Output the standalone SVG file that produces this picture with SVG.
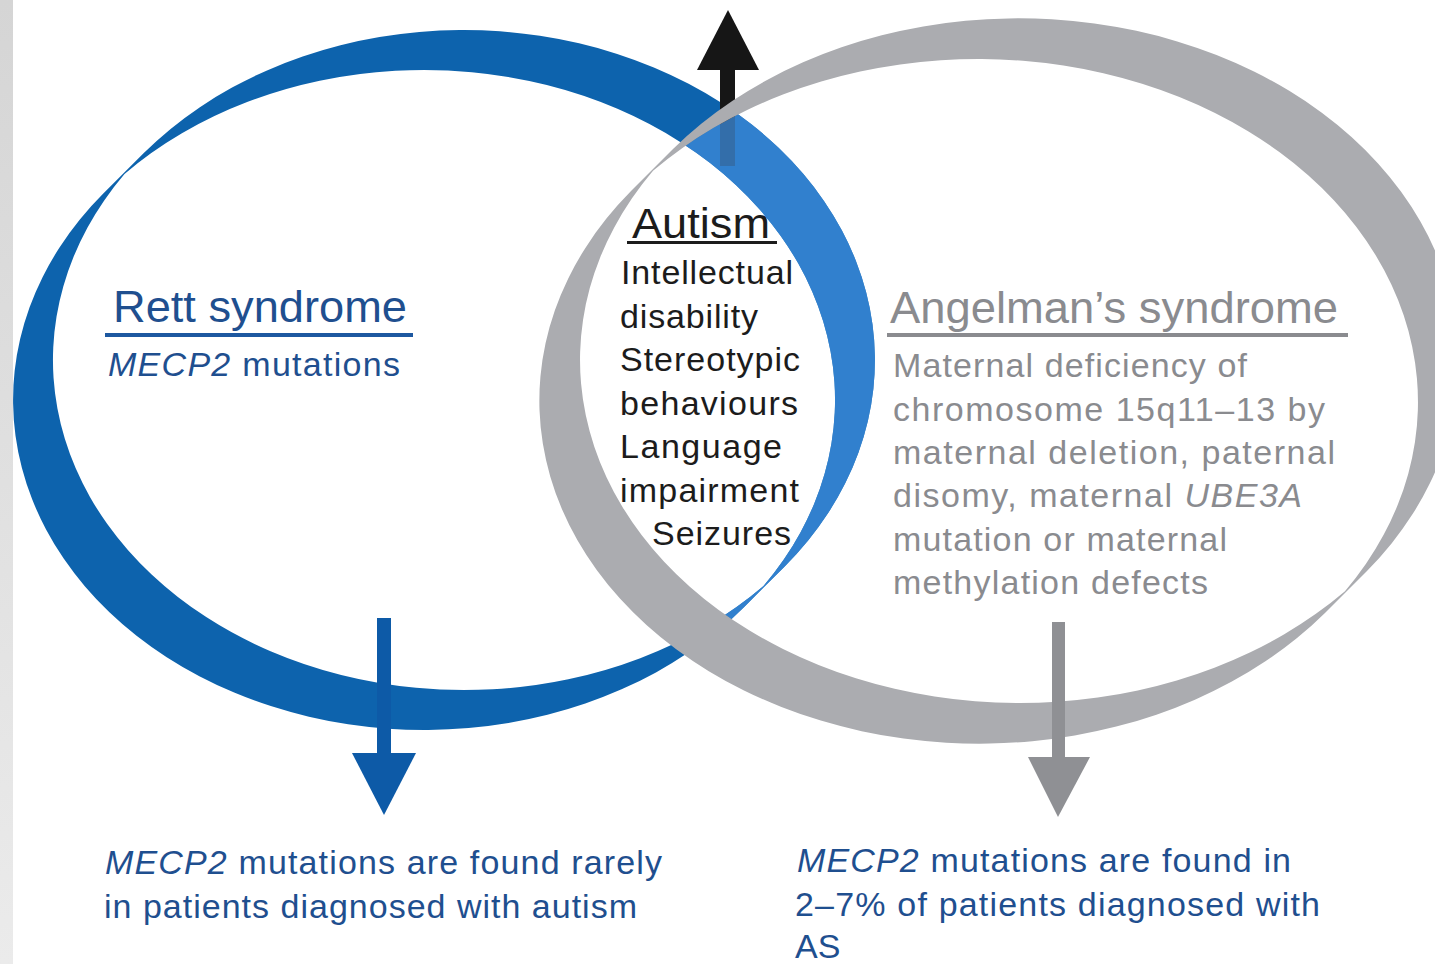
<svg xmlns="http://www.w3.org/2000/svg" width="1435" height="964" viewBox="0 0 1435 964">
  <defs>
    <linearGradient id="edge" x1="0" y1="0" x2="0" y2="1">
      <stop offset="0" stop-color="#d5d5d5"/>
      <stop offset="1" stop-color="#ebebeb"/>
    </linearGradient>
    <!-- interior of the Angelman ring; the Rett ring is tinted lighter inside it -->
    <clipPath id="grayInside">
      <path d="M653.03 170.76 A440 343 0 0 1 1344.97 591.24 A440 343 0 0 1 653.03 170.76 Z"/>
    </clipPath>
    <style>
      .sans { font-family: "Liberation Sans", Arial, Helvetica, sans-serif; }
      .title { font-size: 44px; }
      .body { font-size: 34px; }
      .navy { fill: #1f4f8f; }
      .dark { fill: #1c1c1c; }
      .grey { fill: #8a8b8f; }
      .it { font-style: italic; }
    </style>
  </defs>

  <rect x="0" y="0" width="1435" height="964" fill="#ffffff"/>
  <rect x="0" y="0" width="13" height="964" fill="url(#edge)"/>

  <!-- Rett syndrome ring (calligraphic ellipse: hull minus lens) -->
  <g id="rett-ring">
    <path fill="#0d63ad" fill-rule="evenodd"
      d="M143.54 153.35 A411 330 0 0 1 784.46 566.65 L744.46 606.65 A411 330 0 0 1 103.54 193.35 Z
         M124.5 174 A411 330 0 0 1 763.5 586 A411 330 0 0 1 124.5 174 Z"/>
  </g>

  <g id="connectors">
    <!-- upward arrow towards autism -->
    <g id="arrow-up" fill="#161616">
      <rect x="720" y="66" width="15" height="100"/>
      <polygon points="728,10 759,70 697,70"/>
    </g>
  </g>

  <!-- Rett ring where it lies inside the Angelman ring -->
  <g id="rett-ring-overlap" clip-path="url(#grayInside)">
    <path fill="#3d8ad9" fill-opacity="0.76" fill-rule="evenodd"
      d="M143.54 153.35 A411 330 0 0 1 784.46 566.65 L744.46 606.65 A411 330 0 0 1 103.54 193.35 Z
         M124.5 174 A411 330 0 0 1 763.5 586 A411 330 0 0 1 124.5 174 Z"/>
  </g>

  <!-- Angelman syndrome ring -->
  <g id="angelman-ring">
    <path fill="#abacb0" fill-rule="evenodd"
      d="M673.02 149.09 A440 343 0 0 1 1366.98 570.91 L1324.98 612.91 A440 343 0 0 1 631.02 191.09 Z
         M653.03 170.76 A440 343 0 0 1 1344.97 591.24 A440 343 0 0 1 653.03 170.76 Z"/>
  </g>

  <g id="connectors-down">
    <g id="arrow-rett" fill="#0d5aa7">
      <rect x="377" y="618" width="14" height="140"/>
      <polygon points="352,753 416,753 384,815"/>
    </g>
    <g id="arrow-angelman" fill="#8f9094">
      <rect x="1052" y="622" width="13" height="140"/>
      <polygon points="1028,757 1090,757 1058,817"/>
    </g>
  </g>

  <!-- Rett syndrome label -->
  <g id="rett" class="sans">
    <text class="title navy" x="113" y="322" textLength="294" lengthAdjust="spacingAndGlyphs">Rett syndrome</text>
    <rect x="105" y="333" width="308" height="4" fill="#1d58a0"/>
    <text class="body navy" x="108" y="376" textLength="292" lengthAdjust="spacing"><tspan class="it">MECP2</tspan> mutations</text>
  </g>

  <!-- Shared features -->
  <g id="autism" class="sans">
    <text class="dark" x="632" y="238" font-size="43" textLength="138" lengthAdjust="spacingAndGlyphs">Autism</text>
    <rect x="627" y="241" width="150" height="3" fill="#1c1c1c"/>
    <text class="body dark" x="621" y="284" textLength="172" lengthAdjust="spacing">Intellectual</text>
    <text class="body dark" x="620" y="328" textLength="138" lengthAdjust="spacing">disability</text>
    <text class="body dark" x="620" y="371" textLength="180" lengthAdjust="spacing">Stereotypic</text>
    <text class="body dark" x="620" y="415" textLength="178" lengthAdjust="spacing">behaviours</text>
    <text class="body dark" x="620" y="458" textLength="162" lengthAdjust="spacing">Language</text>
    <text class="body dark" x="620" y="502" textLength="179" lengthAdjust="spacing">impairment</text>
    <text class="body dark" x="652" y="545" textLength="139" lengthAdjust="spacing">Seizures</text>
  </g>

  <!-- Angelman syndrome label -->
  <g id="angelman" class="sans">
    <text class="title grey" x="890" y="323" textLength="448" lengthAdjust="spacingAndGlyphs">Angelman’s syndrome</text>
    <rect x="887" y="333" width="461" height="4" fill="#8a8b8f"/>
    <text class="body grey" x="893" y="377" textLength="354" lengthAdjust="spacing">Maternal deficiency of</text>
    <text class="body grey" x="893" y="421" textLength="432" lengthAdjust="spacing">chromosome 15q11–13 by</text>
    <text class="body grey" x="893" y="464" textLength="442" lengthAdjust="spacing">maternal deletion, paternal</text>
    <text class="body grey" x="893" y="507" textLength="409" lengthAdjust="spacing">disomy, maternal <tspan class="it">UBE3A</tspan></text>
    <text class="body grey" x="893" y="551" textLength="334" lengthAdjust="spacing">mutation or maternal</text>
    <text class="body grey" x="893" y="594" textLength="315" lengthAdjust="spacing">methylation defects</text>
  </g>

  <!-- Outcome notes -->
  <g id="note-rett" class="sans">
    <text class="body navy" x="105" y="874" textLength="557" lengthAdjust="spacing"><tspan class="it">MECP2</tspan> mutations are found rarely</text>
    <text class="body navy" x="104" y="918" textLength="533" lengthAdjust="spacing">in patients diagnosed with autism</text>
  </g>
  <g id="note-angelman" class="sans">
    <text class="body navy" x="797" y="872" textLength="494" lengthAdjust="spacing"><tspan class="it">MECP2</tspan> mutations are found in</text>
    <text class="body navy" x="795" y="916" textLength="525" lengthAdjust="spacing">2–7% of patients diagnosed with</text>
    <text class="body navy" x="795" y="958">AS</text>
  </g>
</svg>
